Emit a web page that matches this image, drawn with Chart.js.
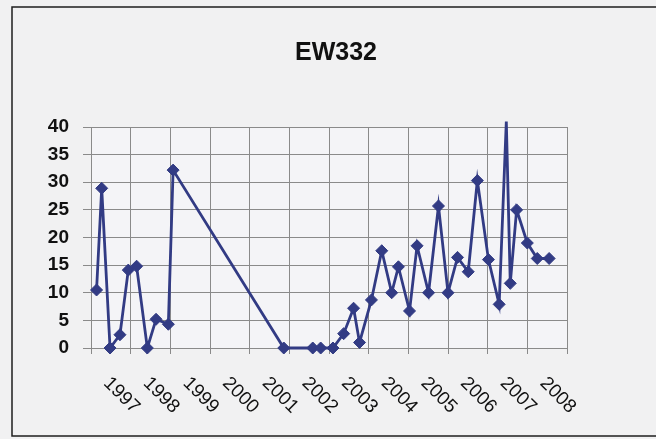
<!DOCTYPE html>
<html>
<head>
<meta charset="utf-8">
<script src="https://cdn.jsdelivr.net/npm/chart.js@4/dist/chart.umd.min.js"></script>
<style>
  html, body { margin: 0; padding: 0; background: #f1f1f2; }
  canvas { display: block; }
</style>
</head>
<body>
<canvas id="grafico" width="656" height="439"></canvas>
<script>
// EW332 — leituras ao longo dos anos (data decimal -> valor)

const titulo = "EW332"
const anos   = [1997, 1998, 1999, 2000, 2001, 2002, 2003, 2004, 2005, 2006, 2007, 2008]

const datas   = [1997.14, 1997.27, 1997.48, 1997.73, 1997.94, 1998.15, 1998.42, 1998.64, 1998.95, 1999.07,
                 2001.86, 2002.59, 2002.79, 2003.10, 2003.37, 2003.62, 2003.77, 2004.07, 2004.33, 2004.58,
                 2004.75, 2005.03, 2005.22, 2005.51, 2005.76, 2006.00, 2006.24, 2006.51, 2006.74, 2007.02,
                 2007.29, 2007.47, 2007.57, 2007.73, 2008.00, 2008.25, 2008.55]
const valores = [10.5, 28.9, 0, 2.4, 14.1, 14.8, 0, 5.2, 4.3, 32.2,
                 0, 0, 0, 0, 2.6, 7.2, 1.0, 8.7, 17.6, 10.0,
                 14.7, 6.7, 18.5, 10.0, 25.7, 10.0, 16.4, 13.8, 30.3, 16.0,
                 7.9, 41.0, 11.7, 25.0, 19.0, 16.2, 16.2]

const AZUL  = "#323b84"
const GRADE = "#8a8a8a"
const FONTE = "'Liberation Sans', Arial, sans-serif"

// fundo, moldura, titulo e rotulos inclinados do eixo x
const decoracao = {
  id: "decoracao",
  beforeDraw(chart) {
    const ctx = chart.ctx
    const a = chart.chartArea
    ctx.save()
    ctx.fillStyle = "#f1f1f2"
    ctx.fillRect(0, 0, chart.width, chart.height)
    ctx.fillStyle = "#f4f4f7"
    ctx.fillRect(a.left, a.top, a.right - a.left, a.bottom - a.top)
    ctx.strokeStyle = "#1e1e1e"
    ctx.lineWidth = 1.5
    ctx.strokeRect(12, 7, 700, 429)
    ctx.restore()
  },
  afterDraw(chart) {
    const ctx = chart.ctx
    const x = chart.scales.x
    ctx.save()
    ctx.fillStyle = "#111"
    ctx.font = `bold 25px ${FONTE}`
    ctx.textAlign = "center"
    ctx.textBaseline = "middle"
    ctx.fillText(titulo, 336, 53)

    ctx.font = `19px ${FONTE}`
    ctx.textAlign = "left"
    ctx.textBaseline = "alphabetic"
    anos.forEach(ano => {
      const px = x.getPixelForValue(ano + 0.5)
      ctx.save()
      ctx.translate(px - 8, 384)
      ctx.rotate(Math.PI / 4)
      ctx.fillText(String(ano), 0, 0)
      ctx.restore()
    })
    ctx.restore()
  }
}

new Chart(document.getElementById("grafico").getContext("2d"), {
  type: "line",
  data: {
    datasets: [{
      data: datas.map((d, i) => ({ x: d, y: valores[i] })),
      borderColor: AZUL,
      borderWidth: 2.8,
      pointStyle: "rectRot",
      pointRadius: c => (c.raw && c.raw.y > 40 ? 0 : 6),
      pointBackgroundColor: AZUL,
      pointBorderColor: AZUL,
      pointBorderWidth: 1,
      tension: 0,
      clip: false
    }]
  },
  options: {
    responsive: false,
    animation: false,
    devicePixelRatio: 1,
    layout: { padding: { top: 127, right: 89, bottom: 0, left: 0 } },
    plugins: { legend: { display: false }, title: { display: false }, tooltip: { enabled: false } },
    scales: {
      x: {
        type: "linear",
        min: 1997, max: 2009,
        ticks: { stepSize: 1, display: false },
        grid: { color: GRADE, lineWidth: 1, tickLength: 6 },
        border: { color: GRADE },
        afterFit: s => { s.height = 91 }
      },
      y: {
        min: 0, max: 40,
        ticks: { stepSize: 5, padding: 14, color: "#111", font: { family: FONTE, size: 19, weight: "bold" } },
        grid: { color: GRADE, lineWidth: 1, tickLength: 8 },
        border: { color: GRADE },
        afterFit: s => { s.width = 91 }
      }
    }
  },
  plugins: [decoracao]
})
</script>
</body>
</html>
